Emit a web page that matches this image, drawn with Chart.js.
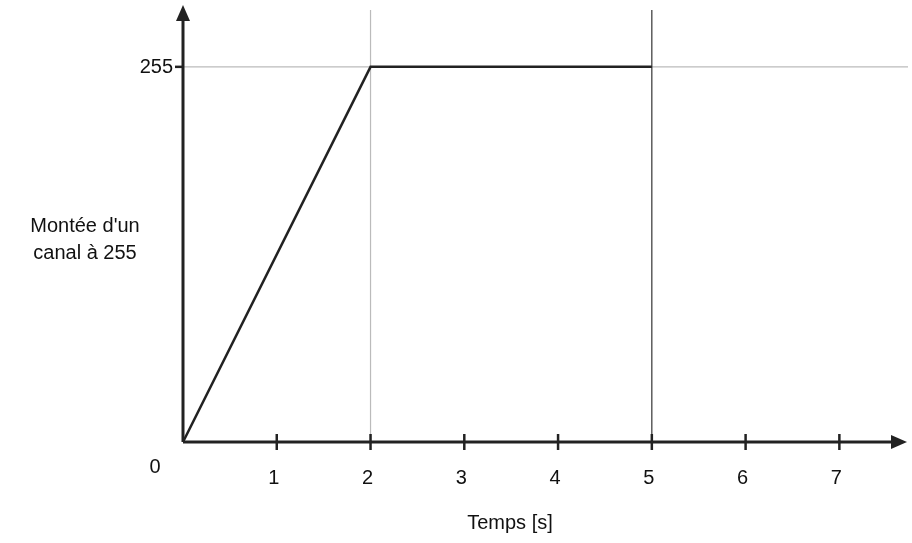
<!DOCTYPE html>
<html><head><meta charset="utf-8">
<script src="https://cdn.jsdelivr.net/npm/chart.js@4"></script>
<style>html,body{margin:0;padding:0;background:#fff}#w{width:912px;height:543px}</style>
</head><body><div id="w"><canvas id="c"></canvas></div>
<script>
const timeValues = [0, 2, 5];
const channelValues = [0, 255, 255];
const xTickLabels = [1, 2, 3, 4, 5, 6, 7];
const yLabel = ["Montée d'un", "canal à 255"];
const xTitle = "Temps [s]";
const refX = [2, 5];
const refY = 255;

const deco = {
  id: 'deco',
  beforeDatasetsDraw(ch) {
    const c = ch.ctx, x = ch.scales.x, y = ch.scales.y, a = ch.chartArea;
    const x0 = x.getPixelForValue(0), y0 = y.getPixelForValue(0);
    c.save();
    c.lineWidth = 1.2;
    c.strokeStyle = '#bbb';
    c.beginPath(); c.moveTo(x0, y.getPixelForValue(refY)); c.lineTo(908, y.getPixelForValue(refY)); c.stroke();
    c.beginPath(); c.moveTo(x.getPixelForValue(refX[0]), 10); c.lineTo(x.getPixelForValue(refX[0]), y0); c.stroke();
    c.strokeStyle = '#333';
    c.beginPath(); c.moveTo(x.getPixelForValue(refX[1]), 10); c.lineTo(x.getPixelForValue(refX[1]), y0); c.stroke();
    c.restore();
  },
  afterDatasetsDraw(ch) {
    const c = ch.ctx, x = ch.scales.x, y = ch.scales.y;
    const x0 = x.getPixelForValue(0), y0 = y.getPixelForValue(0);
    c.save();
    c.strokeStyle = '#222'; c.fillStyle = '#222'; c.lineWidth = 3;
    c.beginPath(); c.moveTo(x0, y0); c.lineTo(895, y0); c.stroke();
    c.beginPath(); c.moveTo(x0, y0); c.lineTo(x0, 18); c.stroke();
    c.beginPath(); c.moveTo(907, y0); c.lineTo(891, y0 - 7); c.lineTo(891, y0 + 7); c.closePath(); c.fill();
    c.beginPath(); c.moveTo(x0, 5); c.lineTo(x0 - 7, 21); c.lineTo(x0 + 7, 21); c.closePath(); c.fill();
    c.lineWidth = 2.5;
    xTickLabels.forEach(v => { const p = x.getPixelForValue(v); c.beginPath(); c.moveTo(p, y0 - 8); c.lineTo(p, y0 + 8); c.stroke(); });
    const py = y.getPixelForValue(refY);
    c.beginPath(); c.moveTo(x0 - 8, py); c.lineTo(x0, py); c.stroke();
    c.font = '20px "Liberation Sans", Arial, sans-serif'; c.fillStyle = '#111';
    c.textAlign = 'center'; c.textBaseline = 'middle';
    xTickLabels.forEach(v => c.fillText(String(v), x.getPixelForValue(v) - 3, 478));
    c.fillText('0', 155, 467);
    c.fillText(xTitle, 510, 523);
    c.textAlign = 'right'; c.fillText(String(refY), x0 - 10, py + 1);
    c.textAlign = 'center';
    c.fillText(yLabel[0], 85, 226); c.fillText(yLabel[1], 85, 253);
    c.restore();
  }
};

new Chart(document.getElementById('c'), {
  type: 'line',
  data: { datasets: [{ data: timeValues.map((t, i) => ({ x: t, y: channelValues[i] })), borderColor: '#222', borderWidth: 2.5, pointRadius: 0, tension: 0 }] },
  options: {
    responsive: true, maintainAspectRatio: false, animation: false,
    layout: { padding: { left: 183, right: 7, top: 8, bottom: 101 } },
    plugins: { legend: { display: false }, tooltip: { enabled: false } },
    scales: {
      x: { type: 'linear', min: 0, max: 7.7, display: false },
      y: { min: 0, max: 295, display: false }
    }
  },
  plugins: [deco]
});
</script></body></html>
